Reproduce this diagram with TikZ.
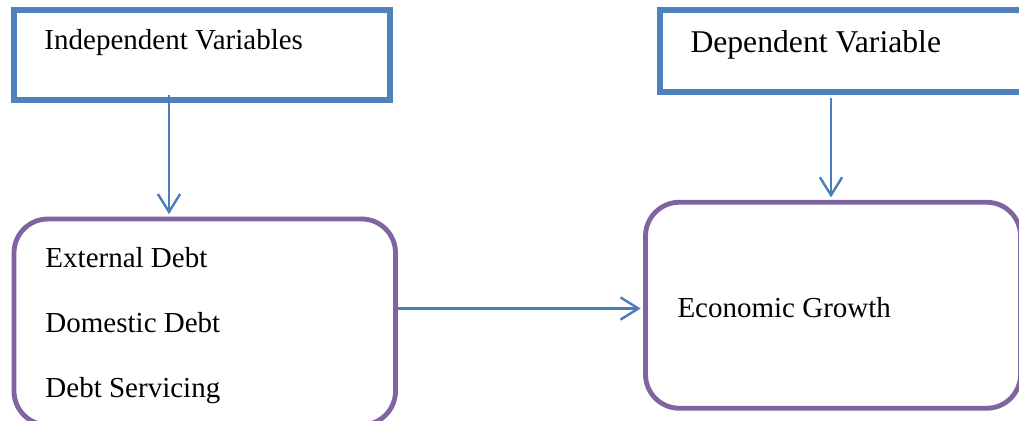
\documentclass[tikz,border=0pt]{standalone}
\usepackage{fontspec}
\setmainfont{Liberation Serif}
\usepackage{xcolor}
\usetikzlibrary{arrows.meta,calc}
\definecolor{boxblue}{HTML}{4F81BD}
\definecolor{lineblue}{HTML}{4A7EBB}
\definecolor{boxpurple}{HTML}{8064A2}
\tikzset{
  varbox/.style={draw=boxblue,line width=2.4pt,inner sep=0pt,rectangle},
  roundbox/.style={draw=boxpurple,line width=2pt,inner sep=0pt,rectangle,
    rounded corners=14pt,minimum height=206*0.41379pt},
  conn/.style={draw=lineblue,line width=1pt,-{Straight Barb[length=7.4pt,width=9.2pt]},shorten >=1pt},
  lbl/.style={anchor=base west,inner sep=0pt,font=\fontsize{12}{14}\selectfont}
}

\begin{document}
\begin{tikzpicture}[x=0.41379pt,y=-0.41379pt]
    \useasboundingbox (0,0) rectangle (1019,420);
    \clip (0,0) rectangle (1019,420);
    % top boxes
    \node[varbox,minimum width=376*0.41379pt,minimum height=90*0.41379pt] (indep) at (202,55) {};
    \node[varbox,minimum width=372*0.41379pt,minimum height=82*0.41379pt] (dep) at (846,51) {};
    \node[lbl] (indeplbl) at (44,50) {Independent Variables};
    \node[lbl,font=\fontsize{13.1}{15}\selectfont] (deplbl) at (690,53) {Dependent Variable};
    % rounded boxes
    \node[roundbox,minimum width=381.5*0.41379pt] (vars) at (204.75,322) {};
    \node[roundbox,minimum width=375*0.41379pt] (growth) at (833,305.25) {};
    \foreach \txt [count=\i] in {External Debt,Domestic Debt,Debt Servicing}
    {
      \node[lbl] (debt\i) at (45,{267+65*(\i-1)}) {\txt};
    }
    \node[lbl] (growthlbl) at (677,317) {Economic Growth};
    % arrows
    \draw[conn] ($(indep.south)+(-33,-8)$) coordinate (s1) -- (s1 |- vars.north);
    \draw[conn] ($(dep.south)+(-15,3)$) coordinate (s2) -- (s2 |- growth.north);
    \draw[conn] ($(vars.east)+(0,-13.5)$) coordinate (s3) -- (s3 -| growth.west);
\end{tikzpicture}
\end{document}
